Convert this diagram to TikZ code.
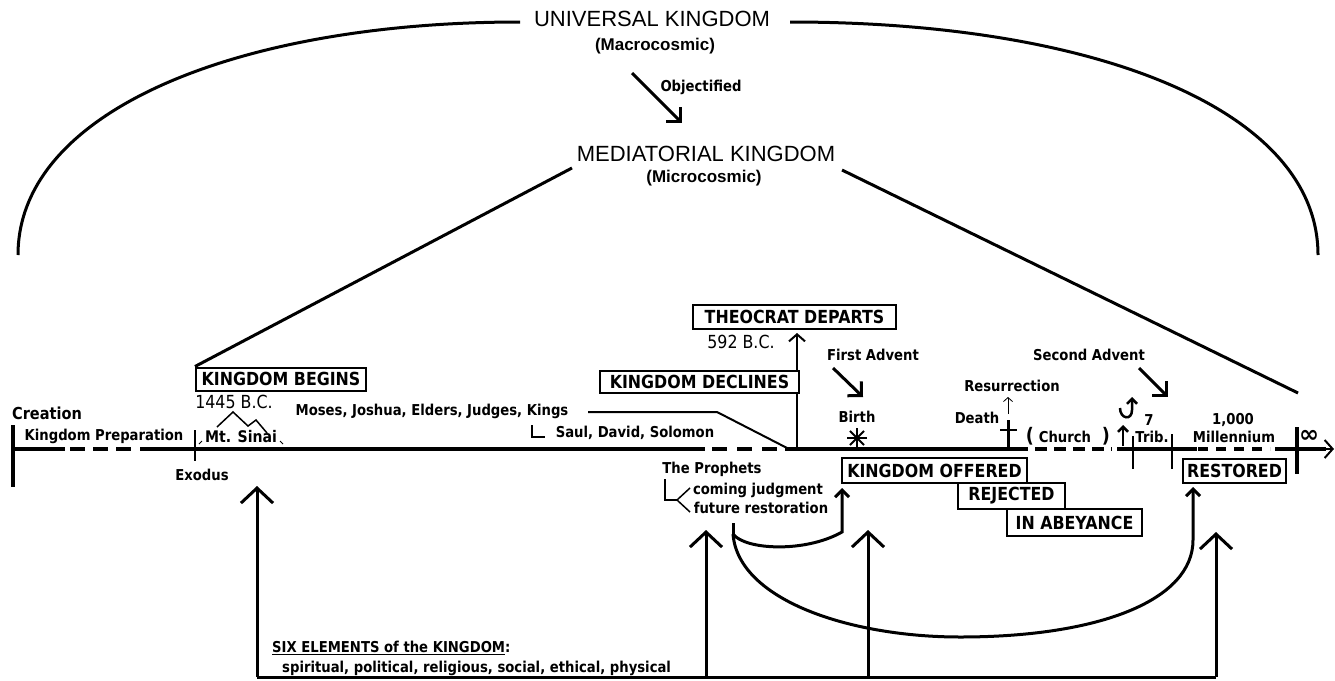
\documentclass[tikz,border=0pt]{standalone}
\usepackage{fontspec}
\setmainfont{DejaVu Sans}
\newfontfamily\tah{DejaVu Sans}[FakeStretch=0.88]
\newfontfamily\ari{Liberation Sans}
\usetikzlibrary{arrows.meta}
\tikzset{
  lbl/.style={font=\tah\bfseries\fontsize{15}{17}\selectfont, inner sep=0pt},
  biglbl/.style={font=\tah\bfseries\fontsize{16.5}{18}\selectfont, inner sep=0pt},
  reglbl/.style={font=\tah\fontsize{18}{20}\selectfont, inner sep=0pt},
  title/.style={font=\ari\fontsize{22}{24}\selectfont, inner sep=0pt},
  subtitle/.style={font=\ari\bfseries\fontsize{17}{19}\selectfont, inner sep=0pt},
  kbox/.style={draw, line width=2pt, font=\tah\bfseries\fontsize{18}{20}\selectfont, inner sep=0pt},
  arcline/.style={line width=3pt},
  tline/.style={line width=3.5pt},
  frame/.style={line width=3pt},
  bigarrow/.style={line width=3pt, -{Straight Barb[length=15pt,width=32pt]}},
  cornerarrow/.style={line width=3pt, -{Straight Barb[length=10pt,width=20pt]}},
  curvearrow/.style={line width=3pt, -{Straight Barb[length=7pt,width=14pt]}},
}
\begin{document}
\begin{tikzpicture}[x=1pt,y=-1pt]
\useasboundingbox (0,0) rectangle (1335,680);

% ---------- titles ----------
\node[title] (uk) at (652,19) {UNIVERSAL KINGDOM};
\node[subtitle] (mac) at (655,46) {(Macrocosmic)};
\node[lbl] (obj) at (701,87) {Objectified};
\node[title] (mk) at (706,154) {MEDIATORIAL KINGDOM};
\node[subtitle] (mic) at (704,178) {(Microcosmic)};

\coordinate (arcL) at (18,255);
\coordinate (arcLt) at (520,22);
\coordinate (arcRt) at (790,22);
\coordinate (arcR) at (1318,255);
\draw[arcline] (arcL) .. controls (18,110) and (240,22) .. (arcLt);
\draw[arcline] (arcRt) .. controls (1096,22) and (1318,110) .. (arcR);

\coordinate (objA) at (632,73);
\coordinate (objB) at (682,123);
\draw[cornerarrow] (objA) -- (objB);

% ---------- boxes ----------
\node[kbox, minimum width=170pt, minimum height=23pt] (kb) at (281,379) {KINGDOM BEGINS};
\node[kbox, minimum width=203pt, minimum height=24pt] (td) at (794.5,317) {THEOCRAT DEPARTS};
\node[kbox, minimum width=199pt, minimum height=22pt] (kd) at (699.5,382) {KINGDOM DECLINES};
\node[kbox, minimum width=185pt, minimum height=25pt] (ko) at (934.5,470.5) {KINGDOM OFFERED};
\node[kbox, minimum width=107pt, minimum height=26pt] (rej) at (1011.5,496) {REJECTED};
\node[kbox, minimum width=135pt, minimum height=27pt] (abey) at (1074.5,522.5) {IN ABEYANCE};
\node[kbox, minimum width=103pt, minimum height=24pt] (rest) at (1234.5,471) {RESTORED};

% ---------- slanted lines from mediatorial ----------
\coordinate (mkL) at (572,168);
\coordinate (mkR) at (842,170);
\coordinate (infTop) at (1298,393);
\draw[arcline] (mkL) -- (kb.north west);
\draw[arcline] (mkR) -- (infTop);

% ---------- timeline ----------
\coordinate (tlA) at (13,449);
\coordinate (tlB) at (1334,449);
\draw[tline] (13,449) -- (65,449);
\draw[tline, dash pattern=on 15pt off 8pt] (70,449) -- (131,449);
\draw[tline] (140,449) -- (705,449);
\draw[tline, dash pattern=on 15pt off 10pt] (712,449) -- (777,449);
\draw[tline] (785,449) -- (1028,449);
\draw[tline, dash pattern=on 12pt off 7pt] (1035,449) -- (1112,449);
\draw[tline] (1117,449) -- (1197,449);
\draw[tline, dash pattern=on 10pt off 8pt] (1198,449) -- (1270,449);
\draw[tline] (1275,449) -- (1326,449);
\draw[line width=2pt, -{Straight Barb[length=8pt,width=18pt]}] (1320,449) -- (tlB);

\draw[line width=4pt] (13,425) -- (13,487);
\draw[line width=2pt] (195,430) -- (195,461);
\draw[line width=2.5pt] (1133,436) -- (1133,469);
\draw[line width=2.5pt] (1172,434) -- (1172,469);
\draw[line width=4pt] (1297,427) -- (1297,474);

% ---------- left labels ----------
\node[biglbl] (creation) at (47,413) {Creation};
\node[lbl] (prep) at (104,436) {Kingdom Preparation};
\node[lbl] (exodus) at (202,475) {Exodus};
\node[reglbl] (bc1445) at (234,402) {1445 B.C.};
\node[font=\tah\bfseries\fontsize{16}{18}\selectfont, inner sep=0pt] (sinai) at (241,437) {Mt. Sinai};
\draw[line width=1.5pt] (217,427) -- (233,412) -- (248,426) -- (256,420) -- (267,433);
\draw[line width=1pt] (199,444) -- (202,441);
\draw[line width=1pt] (280,441) -- (283,444);

\node[lbl] (moses) at (432,411) {Moses, Joshua, Elders, Judges, Kings};
\node[lbl] (saul) at (635,433) {Saul, David, Solomon};
\draw[line width=2pt] (532,425) -- (532,437) -- (545,437);
\coordinate (mosA) at (588,412);
\coordinate (mosB) at (717,412);
\coordinate (mosC) at (789,449);
\draw[line width=2pt] (mosA) -- (mosB) -- (mosC);

% ---------- theocrat ----------
\node[reglbl] (bc592) at (741,342) {592 B.C.};
\coordinate (declX) at (797,449);
\draw[line width=2pt] (declX) -- (declX |- kd.south);
\draw[line width=2pt, -{Straight Barb[length=7pt,width=16pt]}] (declX |- kd.north) -- (797,333);

% ---------- first advent ----------
\node[lbl] (fa) at (873,355) {First Advent};
\coordinate (faA) at (833,368);
\coordinate (faB) at (863,397);
\draw[cornerarrow] (faA) -- (faB);
\node[lbl] (birth) at (857,417) {Birth};
\coordinate (star) at (857,438);
\foreach \a in {0,45,90,135} \draw[line width=1.8pt] (star) ++(\a:10) -- ++(\a+180:20);

% ---------- death, resurrection, church ----------
\node[lbl] (resur) at (1012,386) {Resurrection};
\draw[line width=0.8pt, -{Straight Barb[length=4pt,width=9pt]}] (1008,414) -- (1008,397);
\node[lbl] (death) at (977,418) {Death};
\draw[line width=3pt] (1008,420) -- (1008,448);
\draw[line width=2.5pt] (1000,430) -- (1017,430);
\node[font=\tah\bfseries\fontsize{20}{22}\selectfont, inner sep=0pt] (lp) at (1030,436) {(};
\node[lbl] (church) at (1065,437) {Church};
\node[font=\tah\bfseries\fontsize{20}{22}\selectfont, inner sep=0pt] (rp) at (1106,436) {)};
\draw[line width=2.5pt, -{Straight Barb[length=5pt,width=10pt]}] (1123,446) -- (1123,425);
\draw[line width=2.5pt, -{Straight Barb[length=5pt,width=10pt]}] (1120,408) .. controls (1120,419) and (1132,421) .. (1132,410) -- (1132,397);

% ---------- second advent ----------
\node[lbl] (sa) at (1089,355) {Second Advent};
\coordinate (saA) at (1139,368);
\coordinate (saB) at (1168,397);
\draw[cornerarrow] (saA) -- (saB);
\node[lbl] (seven) at (1149,420) {7};
\node[lbl] (trib) at (1152,437) {Trib.};
\node[lbl] (thou) at (1233,420) {1,000};
\node[lbl] (mill) at (1234,437) {Millennium};
\node[font=\bfseries\fontsize{24}{26}\selectfont, inner sep=0pt] (inf) at (1309,436) {∞};

% ---------- prophets ----------
\node[lbl] (proph) at (712,469) {The Prophets};
\node[lbl] (coming) at (758,490) {coming judgment};
\node[lbl] (future) at (761,508) {future restoration};
\draw[line width=1.5pt] (665,479) -- (665,500) -- (677,500);
\draw[line width=1.5pt] (690,488) -- (677,500) -- (690,512);

% ---------- curved arrows ----------
\coordinate (cS) at (733,523);
\coordinate (cM) at (733,534);
\draw[line width=3pt] (cS) -- (cM);
\draw[curvearrow] (cM) .. controls (745,550) and (805,553) .. (842,532) -- (842,488);
\draw[curvearrow] (cM) .. controls (738,600) and (850,637) .. (960,637) .. controls (1100,637) and (1193,600) .. (1193,540) -- (1193,487);

% ---------- bottom frame ----------
\coordinate (b1) at (257,677);
\coordinate (b2) at (706,677);
\coordinate (b3) at (868,677);
\coordinate (b4) at (1216,677);
\coordinate (t1) at (257,486);
\coordinate (t2) at (706,530);
\coordinate (t3) at (868,530);
\coordinate (t4) at (1216,532);
\draw[frame] (b1) -- (b4);
\draw[bigarrow] (b1) -- (t1);
\draw[bigarrow] (b2) -- (t2);
\draw[bigarrow] (b3) -- (t3);
\draw[bigarrow] (b4) -- (t4);

\node[lbl, anchor=west] (six) at (272,648) {\underline{SIX ELEMENTS of the KINGDOM}:};
\node[lbl, anchor=west] (elems) at (282,668) {spiritual, political, religious, social, ethical, physical};
\end{tikzpicture}
\end{document}
